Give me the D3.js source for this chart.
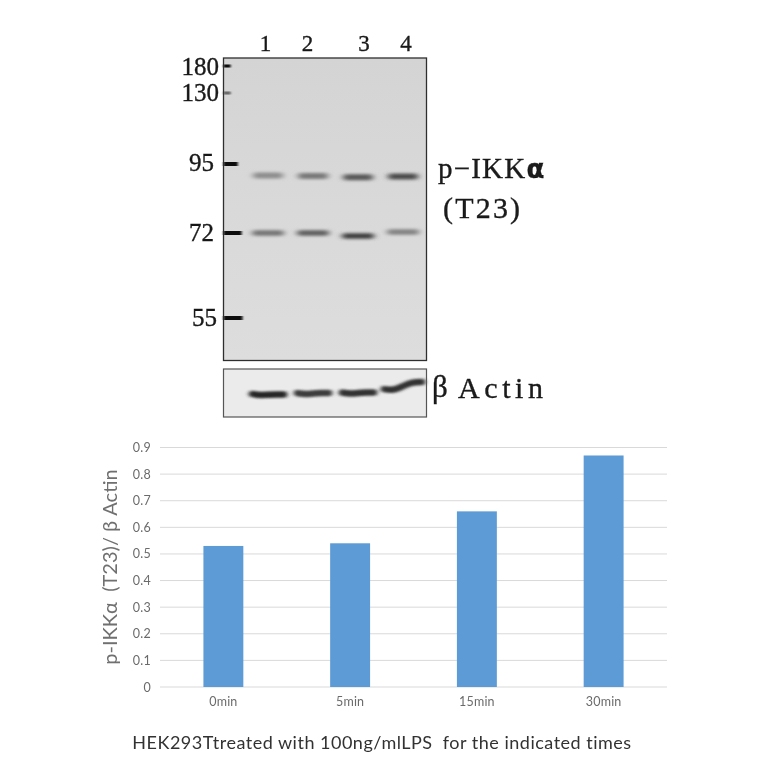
<!DOCTYPE html>
<html><head><meta charset="utf-8">
<script src="https://cdnjs.cloudflare.com/ajax/libs/d3/7.8.5/d3.min.js"></script>
<style>html,body{margin:0;padding:0;background:#fff}svg{display:block}</style>
</head><body><svg id="c" width="764" height="764"></svg>
<script>
// Bar chart data
const times = ["0min","5min","15min","30min"];
const ratio = [0.53,0.54,0.66,0.87];
const ratioTicks = [0,0.1,0.2,0.3,0.4,0.5,0.6,0.7,0.8,0.9];
// Western blot data
const lanes = ["1","2","3","4"];
const markerKda = [180,130,95,72,55];
const markerStrength = [0.3,0.3,0.72,0.95,1];
const upperKda = [91.2,91,90.6,90.8];
const upperDensity = [0.36,0.48,0.66,0.74];
const lowerKda = [72,72,71.4,72.3];
const lowerDensity = [0.5,0.62,0.82,0.42];
const actinLeft = [0.54,0.52,0.51,0.44];
const actinRight = [0.53,0.5,0.49,0.27];
const actinDensity = [0.95,0.82,0.88,0.88];

const svg = d3.select("#c");
const defs = svg.append("defs");
const blur = (id,s)=>defs.append("filter").attr("id",id).attr("x","-20%").attr("y","-200%").attr("width","140%").attr("height","500%")
  .append("feGaussianBlur").attr("stdDeviation",s);
blur("b1","3 1.6"); blur("b2","2 1"); blur("t","0.35"); blur("m","0.9 0.5");
const serif = "'Liberation Serif','DejaVu Serif',serif";
const sans = "Lato,'Open Sans',sans-serif";

// ---- blot ----
const gel = {l:223.5,r:426.5,t:58,b:360.5};
const act = {t:369,b:417};
const laneX = d3.scalePoint().domain(lanes).range([268,403]);
const kdaY = d3.scaleLinear().domain(markerKda).range([66,93,164,233,318]);
const actY = d3.scaleLinear().domain([0,1]).range([act.t,act.b]);
const ink = d3.scaleLinear().domain([0,1]).range(["#cccccc","#1c1c1c"]);
const markLen = d3.scaleLinear().domain([0,1]).range([2,19]);

const g = svg.append("g");
const grad = defs.append("linearGradient").attr("id","gelbg").attr("x1",0).attr("y1",0).attr("x2",0).attr("y2",1);
grad.append("stop").attr("offset",0).attr("stop-color","#d4d4d4");
grad.append("stop").attr("offset",0.5).attr("stop-color","#d9d9d9");
grad.append("stop").attr("offset",1).attr("stop-color","#dddddd");
g.append("rect").attr("x",gel.l).attr("y",gel.t).attr("width",gel.r-gel.l).attr("height",gel.b-gel.t).attr("fill","url(#gelbg)");
g.append("rect").attr("x",gel.l).attr("y",act.t).attr("width",gel.r-gel.l).attr("height",act.b-act.t).attr("fill","#ebebeb");

const band = (sel,kda,dens,w,hw)=>sel.append("g").attr("filter","url(#b1)").selectAll("rect").data(lanes).join("rect")
  .attr("x",(d,i)=>laneX(d)-hw).attr("width",hw*2)
  .attr("y",(d,i)=>kdaY(kda[i])-w/2).attr("height",w).attr("rx",w/2)
  .attr("fill",(d,i)=>ink(dens[i]));
band(g,upperKda,upperDensity,6,15);
band(g,lowerKda,lowerDensity,5.5,16);

const ln = d3.line().curve(d3.curveBasis);
g.append("g").attr("filter","url(#b2)").selectAll("path").data(lanes).join("path")
  .attr("d",(d,i)=>{const c=laneX(d),h=i==3?19:16,a=actY(actinLeft[i]),b=actY(actinRight[i]);
    return ln([[c-h,a-1],[c-h/2,a+0.5],[c,(a+b)/2],[c+h/2,b],[c+h,b]]);})
  .attr("fill","none").attr("stroke",(d,i)=>ink(actinDensity[i])).attr("stroke-width",6.5).attr("stroke-linecap","round");

g.append("g").attr("filter","url(#m)").selectAll("path").data(markerKda).join("path")
  .attr("d",(d,i)=>`M${gel.l},${kdaY(d)}h${markLen(markerStrength[i])}`)
  .attr("stroke","#0c0c0c").attr("stroke-width",(d,i)=>i<2?3:4).attr("stroke-opacity",(d,i)=>i==1?0.55:1);

g.append("rect").attr("x",gel.l).attr("y",gel.t).attr("width",gel.r-gel.l).attr("height",gel.b-gel.t).attr("fill","none").attr("stroke","#2e2e2e").attr("stroke-width",1.3);
g.append("rect").attr("x",gel.l).attr("y",act.t).attr("width",gel.r-gel.l).attr("height",act.b-act.t).attr("fill","none").attr("stroke","#555").attr("stroke-width",1.2);

const bt = svg.append("g").attr("font-family",serif).attr("fill","#1a1a1a").attr("stroke","#1a1a1a").attr("stroke-width",0.35).attr("filter","url(#t)");
const laneLabelX = {"1":265.5,"2":307.5,"3":364,"4":406};
bt.selectAll(".ll").data(lanes).join("text").attr("class","ll").attr("x",d=>laneLabelX[d]).attr("y",51).attr("text-anchor","middle").attr("font-size",23).text(d=>d);
const markX = {180:219,130:219,95:214,72:214,55:217};
const markBase = {180:75,130:101,95:171,72:241,55:326};
bt.selectAll(".mk").data(markerKda).join("text").attr("class","mk").attr("x",d=>markX[d]).attr("y",d=>markBase[d]).attr("text-anchor","end").attr("font-size",25).text(d=>d);
const pl = bt.append("text").attr("x",438).attr("y",178).attr("font-size",29).attr("letter-spacing",1.2);
pl.append("tspan").text("p\u2212IKK");
pl.append("tspan").attr("font-weight","bold").attr("font-family","'DejaVu Sans',sans-serif").attr("font-size",26).text("\u03B1");
bt.append("text").attr("x",443).attr("y",218).attr("font-size",30).attr("letter-spacing",2.2).text("(T23)");
bt.append("text").attr("x",432).attr("y",397).attr("font-size",31).text("\u03B2");
bt.append("text").attr("x",458).attr("y",398).attr("font-size",30).attr("letter-spacing",4.6).text("Actin");

// ---- bar chart ----
const x = d3.scaleBand().domain(times).range([160,667]).paddingInner(0.685).paddingOuter(0.3425);
const y = d3.scaleLinear().domain([0,0.9]).range([687,447.5]);
const ch = svg.append("g").attr("filter","url(#t)");
ch.append("g").selectAll("line").data(ratioTicks).join("line")
  .attr("x1",160).attr("x2",667).attr("y1",d=>y(d)).attr("y2",d=>y(d)).attr("stroke","#d9d9d9").attr("stroke-width",1);
ch.append("g").selectAll("rect").data(times).join("rect")
  .attr("x",d=>x(d)).attr("width",x.bandwidth()).attr("y",(d,i)=>y(ratio[i])).attr("height",(d,i)=>y(0)-y(ratio[i])).attr("fill","#5b9bd5");
const yAxis = d3.axisLeft(y).tickValues(ratioTicks).tickSize(0).tickPadding(0).tickFormat(d=>d===0?"0":d3.format(".1f")(d));
const ya = ch.append("g").attr("transform","translate(151,0)").call(yAxis);
ya.select(".domain").remove();
ya.selectAll("text").attr("font-family",sans).attr("font-size",12.5).attr("fill","#6b6b6b").attr("letter-spacing",0.3);
const xAxis = d3.axisBottom(x).tickSize(0).tickPadding(0);
const xa = ch.append("g").attr("transform","translate(0,697)").call(xAxis);
xa.select(".domain").remove();
xa.selectAll("text").attr("font-family",sans).attr("font-size",12.5).attr("fill","#6b6b6b").attr("letter-spacing",0.2);
ch.append("text").attr("transform","translate(117,567) rotate(-90)").attr("text-anchor","middle")
  .attr("font-family",sans).attr("font-size",20).attr("fill","#6f6f6f").style("white-space","pre").text("p-IKK\u03B1  (T23)/ \u03B2 Actin");
ch.append("text").attr("x",382).attr("y",749).attr("text-anchor","middle")
  .attr("font-family",sans).attr("font-size",18).attr("fill","#333").attr("letter-spacing",0.5).style("white-space","pre")
  .text("HEK293Ttreated with 100ng/mlLPS  for the indicated times");
</script></body></html>
